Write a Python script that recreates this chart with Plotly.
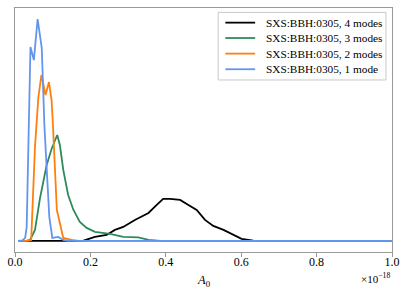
import plotly.graph_objects as go

# Values (A0 in units of 1e-18; density in arbitrary units)
x_4 = [0.010, 0.180, 0.212, 0.243, 0.265, 0.287, 0.318, 0.354, 0.376, 0.393, 0.411, 0.438,
       0.460, 0.482, 0.504, 0.526, 0.553, 0.579, 0.601, 0.632, 0.676, 1.000]
y_4 = [0, 0, 4, 6, 11, 14, 21, 28, 36, 42, 42, 41, 36, 31, 21, 15, 11, 6, 2, 0.3, 0, 0]

x_3 = [0.010, 0.030, 0.040, 0.053, 0.066, 0.084, 0.097, 0.112, 0.119, 0.128, 0.141, 0.155,
       0.172, 0.190, 0.212, 0.239, 0.252, 0.287, 0.327, 0.354, 0.385, 1.000]
y_3 = [0, 0, 1, 11, 42, 76, 92, 106, 96, 71, 46, 31, 19, 13, 9, 8, 7, 4, 3.5, 1, 0, 0]

x_2 = [0.010, 0.030, 0.043, 0.053, 0.062, 0.070, 0.081, 0.090, 0.097, 0.100, 0.111,
       0.128, 0.150, 0.170, 1.000]
y_2 = [0, 0, 1, 94, 144, 166, 146, 159, 141, 121, 31, 3, 1, 0, 0]

x_1 = [0.008, 0.020, 0.027, 0.031, 0.041, 0.050, 0.060, 0.071, 0.078, 0.091, 0.099,
       0.115, 0.128, 0.140, 1.000]
y_1 = [0, 0.5, 3, 14, 194, 181, 222, 193, 115, 24, 3, 4, 1, 0, 0]

names = ["SXS:BBH:0305, 4 modes", "SXS:BBH:0305, 3 modes",
         "SXS:BBH:0305, 2 modes", "SXS:BBH:0305, 1 mode"]
colors = ["#000000", "#2e8b57", "#ff7f0e", "#6495ed"]
xs = [x_4, x_3, x_2, x_1]
ys = [y_4, y_3, y_2, y_1]

x_ticks = [0.0, 0.2, 0.4, 0.6, 0.8, 1.0]
x_ticklabels = ["0.0", "0.2", "0.4", "0.6", "0.8", "1.0"]

fig = go.Figure()
for xv, yv, n, c in zip(xs, ys, names, colors):
    fig.add_trace(go.Scatter(x=xv, y=yv, mode="lines", name=n,
                             line=dict(color=c, width=1.8), showlegend=False))

ymax = max(max(v) for v in ys)
font_family = "'Liberation Serif', 'Times New Roman', Times, serif"

fig.update_layout(
    width=407, height=297,
    margin=dict(l=15, r=15, t=8, b=45, autoexpand=False),
    paper_bgcolor="white", plot_bgcolor="white",
    font=dict(family=font_family, size=11, color="black"),
    showlegend=False,
    xaxis=dict(range=[0, 1.0], tickvals=x_ticks, ticktext=x_ticklabels,
               ticks="outside", ticklen=3.5, tickcolor="#999999",
               showline=True, linecolor="#999999", linewidth=1, mirror=True,
               showgrid=False, zeroline=False, automargin=False,
               ticklabelstandoff=-5,
               tickfont=dict(family=font_family, size=12, color="black")),
    yaxis=dict(range=[-0.05 * ymax, 1.05 * ymax], showticklabels=False, ticks="",
               showline=True, linecolor="#999999", linewidth=1, mirror=True,
               showgrid=False, zeroline=False, automargin=False),
)

# Legend box (matplotlib-style: compact rows)
box_x0, box_x1, box_y0, box_y1 = 0.539, 0.984, 0.705, 0.982
fig.add_shape(type="rect", xref="paper", yref="paper",
              x0=box_x0, x1=box_x1, y0=box_y0, y1=box_y1,
              line=dict(color="#c8c8c8", width=1), fillcolor="white", layer="above")
row_y = [0.940, 0.877, 0.813, 0.749]
for ry, n, c in zip(row_y, names, colors):
    fig.add_shape(type="line", xref="paper", yref="paper",
                  x0=0.558, x1=0.637, y0=ry, y1=ry,
                  line=dict(color=c, width=1.8), layer="above")
    fig.add_annotation(text=n, xref="paper", yref="paper", x=0.661, y=ry,
                       xanchor="left", yanchor="middle", showarrow=False,
                       font=dict(family=font_family, size=11.3, color="black"))

fig.add_annotation(text="<i>A</i><sub>0</sub>", xref="paper", yref="paper",
                   x=0.5, y=-0.077, xanchor="center", yanchor="top",
                   showarrow=False, font=dict(family=font_family, size=12.5, color="black"))
fig.add_annotation(text="×10<sup>−18</sup>", xref="paper", yref="paper",
                   x=1.0, y=-0.07, xanchor="right", yanchor="top",
                   showarrow=False, font=dict(family=font_family, size=11, color="black"))

fig.write_html("out.html", config={"displayModeBar": False},
               post_script="document.body.style.margin='0';")
